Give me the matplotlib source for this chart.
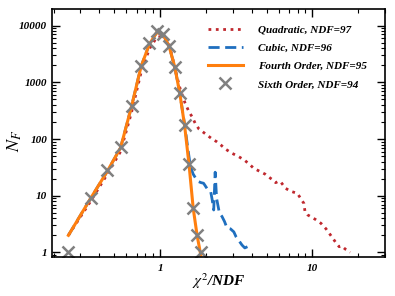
import numpy as np
import matplotlib.pyplot as plt

# datos (chi2/NDF, N_F)
x_sexto = [0.25, 0.35, 0.45, 0.55, 0.65, 0.75, 0.85, 0.95, 1.05, 1.15, 1.25,
           1.35, 1.45, 1.55, 1.65, 1.75, 1.85]
y_sexto = [1, 9, 28, 73, 390, 1980, 4900, 8100, 7200, 4300, 1900,
           650, 177, 36, 6, 2, 1]

x_cuarto = [0.25, 0.35, 0.45, 0.55, 0.65, 0.75, 0.85, 0.95, 1.05, 1.15, 1.25,
            1.35, 1.45, 1.55, 1.65, 1.75, 1.85]
y_cuarto = [2, 9, 27, 70, 380, 1900, 4700, 7600, 7000, 4200, 1850,
            620, 170, 35, 6, 2, 0.9]

x_cubico = [0.25, 0.35, 0.45, 0.55, 0.65, 0.75, 0.85, 0.95, 1.05, 1.15, 1.25,
            1.35, 1.45, 1.52, 1.58, 1.65, 1.72, 1.79, 1.86, 1.93, 2.03, 2.1,
            2.15, 2.2, 2.25, 2.3, 2.35, 2.45, 2.55, 2.65, 2.75, 2.9, 3.05,
            3.15, 3.3, 3.45, 3.6, 3.75]
y_cubico = [2, 9, 27, 70, 380, 1900, 4700, 7600, 7000, 4200, 1850,
            620, 180, 70, 33, 24, 20, 17.7, 17, 16.6, 13.5, 12.5,
            11.8, 8.4, 5.6, 26, 9, 5, 4.3, 3.5, 2.7, 2.6, 2.3,
            1.9, 1.6, 1.35, 1.2, 1.26]

x_cuad = [0.25, 0.35, 0.45, 0.55, 0.65, 0.75, 0.85, 0.95, 1.05, 1.15, 1.29,
          1.36, 1.46, 1.55, 1.62, 1.7, 1.8, 1.9, 2.03, 2.2, 2.35, 2.5, 2.7,
          2.97, 3.28, 3.6, 3.9, 4.12, 4.5, 4.9, 5.31, 5.5, 5.74, 6.0, 6.18,
          6.67, 7.2, 7.97, 8.37, 8.8, 8.95, 9.3, 9.77, 10.5, 11.4, 12.3,
          13.2, 14.0, 14.5, 15.0, 15.6, 16.4, 17.0, 17.7]
y_cuad = [2, 8, 24, 60, 300, 1500, 3900, 6200, 6600, 4600, 1260,
          740, 430, 300, 249, 190, 150, 135, 118, 100, 90, 79, 66,
          56, 49, 42, 35, 30.5, 27, 24, 20.3, 19, 17, 18, 17.7,
          13.5, 12, 11, 9, 7.3, 5.2, 4.6, 4.26, 3.8, 3.25, 2.6,
          2.0, 1.6, 1.4, 1.26, 1.3, 1.15, 1.1, 1.0]

plt.rcParams['font.family'] = 'Liberation Serif'
plt.rcParams['mathtext.fontset'] = 'stix'

fig = plt.figure(figsize=(3.95, 2.96), dpi=100)
ax = fig.add_axes([0.1316, 0.1318, 0.8431, 0.8378])

ax.plot(x_cuad, y_cuad, color='#c0282e', linestyle=':', linewidth=2,
        label='Quadratic, NDF=97')
ax.plot(x_cubico, y_cubico, color='#1f6fbf', linestyle='--', linewidth=2,
        dashes=(4, 2), label='Cubic, NDF=96')
ax.plot(x_cuarto, y_cuarto, color='#ff7f0e', linestyle='-', linewidth=2.2,
        label='Fourth Order, NDF=95')
ax.plot(x_sexto, y_sexto, color='#808080', linestyle='none', marker='x',
        markersize=9, markeredgewidth=1.8, label='Sixth Order, NDF=94')

ax.set_xscale('log')
ax.set_yscale('log')
ax.set_xlim(0.195, 30)
ax.set_ylim(0.83, 19700)

ax.set_xticks([1, 10])
ax.set_xticklabels(['1', '10'])
ax.set_yticks([1, 10, 100, 1000, 10000])
ax.set_yticklabels(['1', '10', '100', '1000', '10000'])

for lab in ax.get_xticklabels() + ax.get_yticklabels():
    lab.set_fontweight('bold')
    lab.set_fontstyle('italic')
    lab.set_fontsize(8)

ax.tick_params(which='both', direction='in', top=True, right=True)
ax.tick_params(which='major', length=6, width=1)
ax.tick_params(which='minor', length=3, width=0.8)
ax.tick_params(axis='x', pad=5)
for s in ax.spines.values():
    s.set_linewidth(1.2)

ax.set_xlabel(r'$\chi^2$/NDF', fontsize=11, fontweight='bold', fontstyle='italic')
ax.set_ylabel(r'$N_F$', fontsize=13)
ax.xaxis.set_label_coords(0.5, -0.06)
ax.yaxis.set_label_coords(-0.085, 0.47)

leg = ax.legend(loc='upper right', frameon=False, handlelength=3.2,
                handletextpad=1.3, labelspacing=0.75,
                bbox_to_anchor=(0.975, 0.975),
                prop={'family': 'Liberation Serif', 'weight': 'bold',
                      'style': 'italic', 'size': 8})

fig.savefig('out.png', dpi=100)
